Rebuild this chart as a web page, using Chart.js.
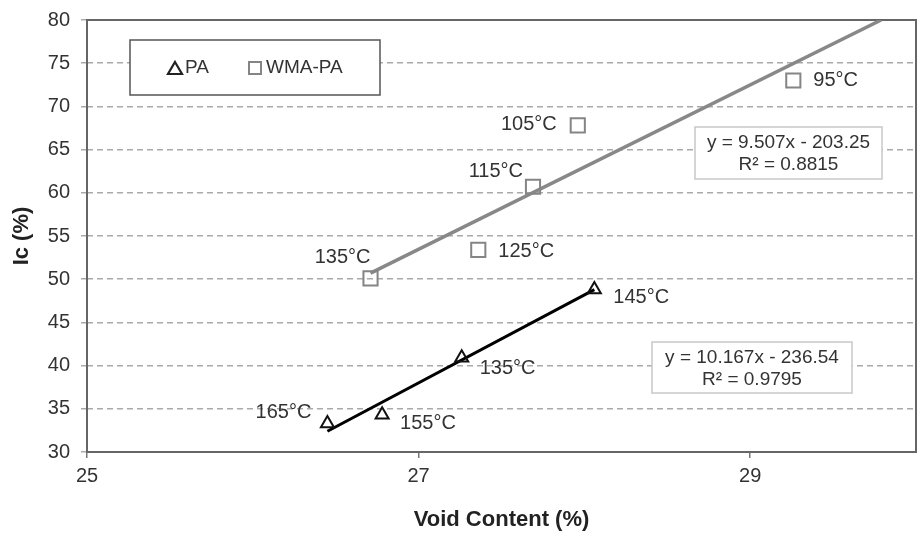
<!DOCTYPE html>
<html lang="en">
<head>
  <meta charset="UTF-8">
  <title>Ic vs Void Content</title>
  <script src="https://cdn.jsdelivr.net/npm/chart.js@4/dist/chart.umd.min.js"></script>
  <style>body { margin: 0; background: #fff; }</style>
</head>
<body>
  <canvas id="chart" width="922" height="537"></canvas>
  <script>
    // PA mixes
    const paVoid = [26.45, 26.78, 27.26, 28.06];
    const paIc = [33.3, 34.3, 40.9, 48.8];
    const paTemps = ['165°C', '155°C', '135°C', '145°C'];

    // WMA-PA mixes
    const wmaVoid = [26.71, 27.36, 27.69, 27.96, 29.26];
    const wmaIc = [50.1, 53.4, 60.7, 67.8, 73.0];
    const wmaTemps = ['135°C', '125°C', '115°C', '105°C', '95°C'];

    // trend line end points
    const paTrendX = [26.45, 28.06];
    const paTrendY = [32.4, 48.8];
    const wmaTrendX = [26.71, 29.79];
    const wmaTrendY = [50.7, 80];

    const paEquation = ['y = 10.167x - 236.54', 'R² = 0.9795'];
    const wmaEquation = ['y = 9.507x - 203.25', 'R² = 0.8815'];

    const xTicks = [25, 27, 29];
    const seriesNames = ['PA', 'WMA-PA'];

    const FONT = '"Liberation Sans", Arial, sans-serif';
    const TEXT = '#333';
    const GREY = '#858585';

    const toPoints = (xs, ys) => xs.map((x, i) => ({ x: x, y: ys[i] }));

    // where each temperature label sits relative to its marker
    const paLabelPos = [
      { dx: -16, dy: -11, align: 'right' },
      { dx: 18, dy: 9, align: 'left' },
      { dx: 18, dy: 11, align: 'left' },
      { dx: 19, dy: 8, align: 'left' }
    ];
    const wmaLabelPos = [
      { dx: 0, dy: -21, align: 'right' },
      { dx: 20, dy: 2, align: 'left' },
      { dx: -10, dy: -15, align: 'right' },
      { dx: -21, dy: -1, align: 'right' },
      { dx: 20, dy: 0, align: 'left' }
    ];

    const extras = {
      id: 'extras',
      beforeDatasetsDraw(chart) {
        const { ctx, chartArea: a } = chart;
        ctx.save();
        ctx.strokeStyle = '#666';
        ctx.lineWidth = 2;
        ctx.strokeRect(a.left, a.top, a.right - a.left, a.bottom - a.top);
        ctx.restore();
      },
      afterDatasetsDraw(chart) {
        const ctx = chart.ctx;
        ctx.save();

        // point labels
        ctx.font = '20px ' + FONT;
        ctx.fillStyle = TEXT;
        ctx.textBaseline = 'middle';
        const drawLabels = (dsIndex, texts, pos) => {
          chart.getDatasetMeta(dsIndex).data.forEach((pt, i) => {
            ctx.textAlign = pos[i].align;
            ctx.fillText(texts[i], pt.x + pos[i].dx, pt.y + pos[i].dy);
          });
        };
        drawLabels(2, paTemps, paLabelPos);
        drawLabels(3, wmaTemps, wmaLabelPos);

        // equation boxes
        const eqBox = (lines, x, y, w, h) => {
          ctx.fillStyle = '#fff';
          ctx.fillRect(x, y, w, h);
          ctx.strokeStyle = '#c8c8c8';
          ctx.lineWidth = 1.5;
          ctx.strokeRect(x, y, w, h);
          ctx.fillStyle = TEXT;
          ctx.textAlign = 'center';
          ctx.font = '19px ' + FONT;
          ctx.fillText(lines[0], x + w / 2, y + 16);
          ctx.fillText(lines[1], x + w / 2, y + 38);
        };
        eqBox(wmaEquation, 695, 127, 187, 52);
        eqBox(paEquation, 652, 342, 200, 51);

        // legend
        ctx.fillStyle = '#fff';
        ctx.fillRect(130, 40, 250, 55);
        ctx.strokeStyle = '#555';
        ctx.lineWidth = 1.5;
        ctx.strokeRect(130, 40, 250, 55);

        ctx.strokeStyle = '#222';
        ctx.lineWidth = 2.2;
        ctx.beginPath();
        ctx.moveTo(175, 62);
        ctx.lineTo(182, 74);
        ctx.lineTo(168, 74);
        ctx.closePath();
        ctx.stroke();

        ctx.strokeStyle = GREY;
        ctx.lineWidth = 2;
        ctx.strokeRect(249, 62, 12, 12);

        ctx.fillStyle = TEXT;
        ctx.textAlign = 'left';
        ctx.font = '19px ' + FONT;
        ctx.fillText(seriesNames[0], 185, 68);
        ctx.fillText(seriesNames[1], 266, 68);

        ctx.restore();
      }
    };

    new Chart(document.getElementById('chart'), {
      type: 'scatter',
      data: {
        datasets: [
          {
            label: 'PA trend',
            data: toPoints(paTrendX, paTrendY),
            showLine: true,
            borderColor: '#000',
            borderWidth: 3,
            pointRadius: 0,
            order: 2
          },
          {
            label: 'WMA-PA trend',
            data: toPoints(wmaTrendX, wmaTrendY),
            showLine: true,
            borderColor: '#888',
            borderWidth: 3.5,
            pointRadius: 0,
            order: 2
          },
          {
            label: seriesNames[0],
            data: toPoints(paVoid, paIc),
            pointStyle: 'triangle',
            pointRadius: 7.5,
            borderColor: '#111',
            borderWidth: 2,
            backgroundColor: 'transparent',
            order: 1
          },
          {
            label: seriesNames[1],
            data: toPoints(wmaVoid, wmaIc),
            pointStyle: 'rect',
            pointRadius: 10,
            borderColor: GREY,
            borderWidth: 2,
            backgroundColor: 'transparent',
            order: 1
          }
        ]
      },
      options: {
        responsive: false,
        animation: false,
        layout: { autoPadding: false, padding: { top: 20, right: 6, left: 0, bottom: 0 } },
        plugins: {
          legend: { display: false },
          tooltip: { enabled: false }
        },
        scales: {
          x: {
            type: 'linear',
            min: 25,
            max: 30,
            afterBuildTicks: (scale) => { scale.ticks = xTicks.map(v => ({ value: v })); },
            afterFit: (scale) => {
              scale.height = 85;
              scale.paddingLeft = 0;
              scale.paddingRight = 0;
            },
            grid: { drawOnChartArea: false, tickLength: 6, color: '#777', lineWidth: 1.5 },
            border: { display: false },
            ticks: { color: TEXT, font: { family: FONT, size: 20 }, padding: 6 },
            title: {
              display: true,
              text: 'Void Content (%)',
              color: '#222',
              font: { family: FONT, size: 22, weight: 'bold' },
              padding: { top: 0, bottom: 4 }
            }
          },
          y: {
            min: 30,
            max: 80,
            afterFit: (scale) => {
              scale.width = 87;
              scale.paddingTop = 0;
              scale.paddingBottom = 0;
            },
            grid: { color: '#aaa', lineWidth: 1.5, tickLength: 6 },
            border: { display: false, dash: [6, 4] },
            ticks: { stepSize: 5, color: TEXT, font: { family: FONT, size: 20 }, padding: 11 },
            title: {
              display: true,
              text: 'Ic (%)',
              color: '#222',
              font: { family: FONT, size: 22, weight: 'bold' },
              padding: { top: 9, bottom: 0 }
            }
          }
        }
      },
      plugins: [extras]
    });
  </script>
</body>
</html>
